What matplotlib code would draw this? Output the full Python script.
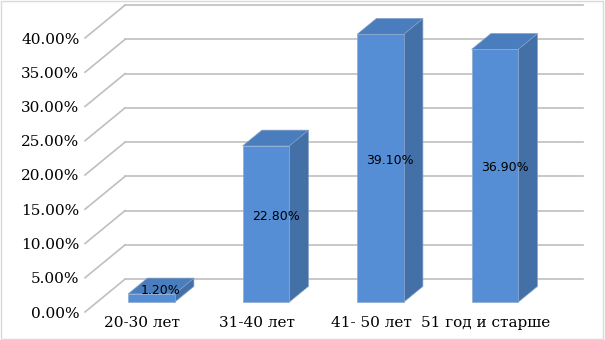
import numpy as np
import matplotlib
matplotlib.use('Agg')
import matplotlib.pyplot as plt
from matplotlib.patches import Polygon, Rectangle

# data
categories = ['20-30 лет', '31-40 лет', '41- 50 лет', '51 год и старше']
values = [1.2, 22.8, 39.1, 36.9]
y_ticks = [0, 5, 10, 15, 20, 25, 30, 35, 40]
y_tick_labels = ['%.2f%%' % v for v in y_ticks]

# oblique 3d look: depth offset in data units (categories, percent)
DX, DY = 0.35, 4.8
f0, f1 = 0.30, 0.78      # bar front / back as fraction of the depth
half_w = 0.203
shift = -0.025

front_col = '#558ED5'
side_col = '#4470A8'
top_col = '#4A7DBD'
grid_col = '#BFBFBF'

fig = plt.figure(figsize=(6.05, 3.4), dpi=100)
ax = fig.add_axes([85 / 605, 28 / 340, 458 / 605, 274 / 340])
ax.set_xlim(-0.5, len(categories) - 0.5)
ax.set_ylim(0, 40)
for s in ax.spines.values():
    s.set_visible(False)

# side wall diagonals and back wall gridlines
x0 = -0.5
x1 = len(categories) - 0.5
for v in y_ticks:
    ax.plot([x0, x0 + DX], [v, v + DY], color=grid_col, lw=1.2, clip_on=False, zorder=1)
    ax.plot([x0 + DX, x1 + DX], [v + DY, v + DY], color=grid_col, lw=1.2, clip_on=False, zorder=1)

# bars
for i, v in enumerate(values):
    ox, oy = f0 * DX + shift, f0 * DY
    dx, dy = (f1 - f0) * DX, (f1 - f0) * DY
    xl = i - half_w + ox
    xr = i + half_w + ox
    yb = oy
    yt = v + oy
    side = [(xr, yb), (xr, yt), (xr + dx, yt + dy), (xr + dx, yb + dy)]
    top = [(xl, yt), (xr, yt), (xr + dx, yt + dy), (xl + dx, yt + dy)]
    front = [(xl, yb), (xr, yb), (xr, yt), (xl, yt)]
    ax.add_patch(Polygon(side, closed=True, fc=side_col, ec='#7F9CC4', lw=0.5, clip_on=False, zorder=3))
    ax.add_patch(Polygon(top, closed=True, fc=top_col, ec='#7F9CC4', lw=0.5, clip_on=False, zorder=3))
    ax.add_patch(Polygon(front, closed=True, fc=front_col, ec='#8FAAD0', lw=0.5, clip_on=False, zorder=4))
    fm = (f0 + f1) / 2
    ax.text(i + fm * DX + shift, v / 2 + fm * DY, '%.2f%%' % v, ha='center', va='center',
            fontsize=9, family='DejaVu Sans', color='black', zorder=5)

ax.set_yticks(y_ticks)
ax.set_yticklabels(y_tick_labels, family='DejaVu Serif', fontsize=11)
ax.set_xticks(range(len(categories)))
ax.set_xticklabels(categories, family='DejaVu Serif', fontsize=11)
ax.tick_params(axis='y', length=0, pad=4)
ax.tick_params(axis='x', length=0, pad=3)

# chart border
fig.patches.append(Rectangle((0.002, 0.003), 0.995, 0.993, transform=fig.transFigure,
                             fill=False, ec='#D9D9D9', lw=1))

fig.savefig('out.png', dpi=100)
